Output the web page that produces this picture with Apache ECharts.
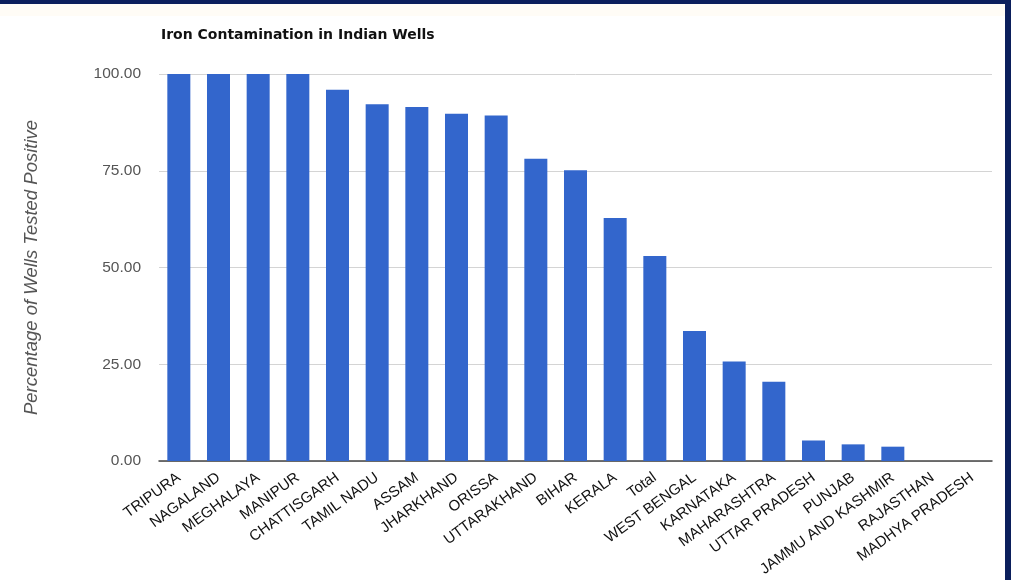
<!DOCTYPE html>
<html>
<head>
<meta charset="utf-8">
<title>Iron Contamination in Indian Wells</title>
<script src="https://cdn.jsdelivr.net/npm/echarts@6/dist/echarts.min.js"></script>
<style>
  html, body { margin: 0; padding: 0; background: #ffffff; }
  #wrap { position: relative; width: 1011px; height: 580px; overflow: hidden; background: #ffffff; }
  #chart { position: absolute; left: 0; top: 0; width: 1011px; height: 580px; }
  .frame-top { position: absolute; left: 0; top: 0; width: 1011px; height: 4px; background: #0b1f5c; }
  .frame-right { position: absolute; right: 0; top: 0; width: 6px; height: 580px; background: #0b1f5c; }
  .strip { position: absolute; left: 0; top: 4px; width: 1005px; height: 12px; background: #fffcf6; }
</style>
</head>
<body>
<div id="wrap">
  <div class="strip"></div>
  <div id="chart"></div>
  <div class="frame-top"></div>
  <div class="frame-right"></div>
</div>
<script>
// States ordered by share of wells that tested positive for iron
const states = [
  'TRIPURA', 'NAGALAND', 'MEGHALAYA', 'MANIPUR', 'CHATTISGARH', 'TAMIL NADU',
  'ASSAM', 'JHARKHAND', 'ORISSA', 'UTTARAKHAND', 'BIHAR', 'KERALA', 'Total',
  'WEST BENGAL', 'KARNATAKA', 'MAHARASHTRA', 'UTTAR PRADESH', 'PUNJAB',
  'JAMMU AND KASHMIR', 'RAJASTHAN', 'MADHYA PRADESH'
];
const positivePct = [
  100, 100, 100, 100, 95.9, 92.2,
  91.5, 89.7, 89.3, 78.1, 75.1, 62.8, 53.0,
  33.6, 25.7, 20.5, 5.3, 4.3,
  3.7, 0, 0
];
const yTicks = [0, 25, 50, 75, 100];

const chart = echarts.init(document.getElementById('chart'), null, { renderer: 'canvas' });

chart.setOption({
  backgroundColor: 'transparent',
  animation: false,
  title: {
    text: 'Iron Contamination in Indian Wells',
    left: 156,
    top: 23,
    textStyle: {
      fontFamily: 'DejaVu Sans',
      fontWeight: 'bold',
      fontSize: 14,
      color: '#111111'
    }
  },
  grid: { left: 159, right: 19, top: 74, bottom: 119, containLabel: false },
  xAxis: {
    type: 'category',
    data: states,
    axisLine: { show: true, lineStyle: { color: '#444444', width: 1.5 } },
    axisTick: { show: false },
    axisLabel: {
      interval: 0,
      rotate: 36,
      margin: 15,
      fontFamily: 'Liberation Sans, Arial, sans-serif',
      fontSize: 15,
      color: '#111111'
    }
  },
  yAxis: {
    type: 'value',
    min: yTicks[0],
    max: yTicks[yTicks.length - 1],
    interval: 25,
    name: 'Percentage of Wells Tested Positive',
    nameLocation: 'middle',
    nameGap: 118,
    nameTextStyle: {
      fontFamily: 'Liberation Sans, Arial, sans-serif',
      fontStyle: 'italic',
      fontSize: 18.5,
      color: '#555555'
    },
    axisLine: { show: false },
    axisTick: { show: false },
    axisLabel: {
      margin: 18,
      fontFamily: 'Liberation Sans, Arial, sans-serif',
      fontSize: 15.5,
      color: '#555555',
      formatter: v => v.toFixed(2)
    },
    splitLine: { lineStyle: { color: '#d4d4d4', width: 1 } }
  },
  series: [{
    type: 'bar',
    data: positivePct,
    barWidth: '58%',
    itemStyle: { color: '#3366cc' }
  }]
});
</script>
</body>
</html>
